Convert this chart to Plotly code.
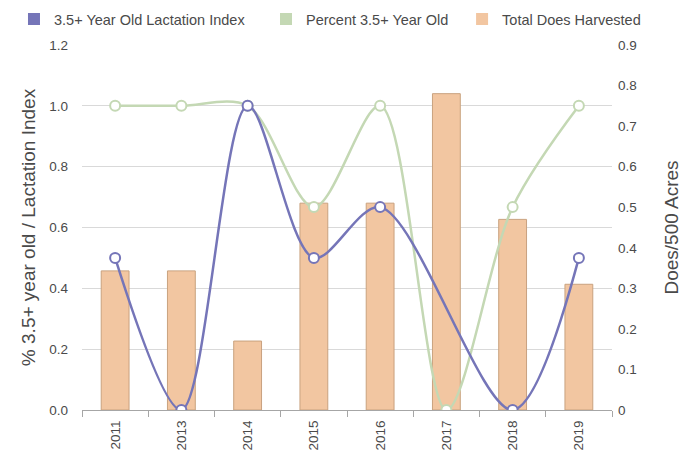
import plotly.graph_objects as go

years = ["2011", "2013", "2014", "2015", "2016", "2017", "2018", "2019"]
lactation_index = [0.5, 0.0, 1.0, 0.5, 0.667, None, 0.0, 0.5]
percent_35_old = [1.0, 1.0, 1.0, 0.667, 1.0, 0.0, 0.667, 1.0]
does_harvested = [0.343, 0.343, 0.17, 0.51, 0.51, 0.78, 0.47, 0.31]

BLUE = "#7575B8"
GREEN = "#C4D8B4"
BAR = "#F2C6A1"
BAR_LINE = "#C9A27F"
TXT = "#4A4A4A"
FONT = "Liberation Sans, Arial, sans-serif"

fig = go.Figure()

fig.add_trace(go.Bar(
    x=years, y=does_harvested, name="Total Does Harvested",
    marker=dict(color=BAR, line=dict(color=BAR_LINE, width=1)),
    yaxis="y", showlegend=False,
))
fig.add_trace(go.Scatter(
    x=years, y=percent_35_old, name="Percent 3.5+ Year Old",
    mode="lines+markers", line=dict(color=GREEN, width=2.5, shape="spline", smoothing=0.9),
    marker=dict(size=10, color="white", line=dict(color=GREEN, width=2)),
    yaxis="y2", showlegend=False, connectgaps=True,
))
fig.add_trace(go.Scatter(
    x=years, y=lactation_index, name="3.5+ Year Old Lactation Index",
    mode="lines+markers", line=dict(color=BLUE, width=2.5, shape="spline", smoothing=0.9),
    marker=dict(size=10, color="white", line=dict(color=BLUE, width=2)),
    yaxis="y2", showlegend=False, connectgaps=True,
))

# legend entries (square swatches), one legend box per entry
legend_items = [("3.5+ Year Old Lactation Index", BLUE, "legend", 0.0087),
                ("Percent 3.5+ Year Old", GREEN, "legend2", 0.375),
                ("Total Does Harvested", BAR, "legend3", 0.66)]
for name, col, lg, _ in legend_items:
    fig.add_trace(go.Scatter(
        x=[None], y=[None], mode="markers", name=name,
        marker=dict(symbol="square", size=9, color=col),
        yaxis="y2", showlegend=True, legend=lg,
    ))

legend_common = dict(orientation="h", xanchor="left", xref="container",
                     y=0.976, yanchor="middle", yref="container",
                     font=dict(size=14.5, color=TXT),
                     bgcolor="rgba(0,0,0,0)", itemsizing="constant")

fig.update_layout(
    width=688, height=465,
    margin=dict(l=74, r=84, t=37, b=63, autoexpand=False),
    paper_bgcolor="white", plot_bgcolor="white",
    font=dict(family=FONT, size=13, color=TXT),
    bargap=0.58,
    legend=dict(x=legend_items[0][3], **legend_common),
    legend2=dict(x=legend_items[1][3], **legend_common),
    legend3=dict(x=legend_items[2][3], **legend_common),
    xaxis=dict(type="category", tickangle=-90, showgrid=False,
               showline=True, linecolor="#A6A6A6", linewidth=1,
               ticks="outside", tickson="boundaries", ticklen=6, tickcolor="#A6A6A6",
               ticklabelstandoff=4,
               tickfont=dict(size=13.5, color=TXT)),
    yaxis=dict(side="right", range=[0, 0.9], dtick=0.1, showgrid=False,
               tickformat=".1~f", zeroline=False, ticklabelstandoff=5,
               title=dict(text="Does/500 Acres", font=dict(size=19, color=TXT), standoff=28),
               tickfont=dict(size=13.5, color=TXT)),
    yaxis2=dict(side="left", overlaying="y", range=[0, 1.2], dtick=0.2, tickformat=".1f",
                showgrid=True, gridcolor="#D9D9D9", gridwidth=1, zeroline=False,
                ticklabelstandoff=13,
                title=dict(text="% 3.5+ year old / Lactation Index", font=dict(size=19, color=TXT), standoff=8),
                tickfont=dict(size=13.5, color=TXT)),
)

fig.write_html("out.html")
